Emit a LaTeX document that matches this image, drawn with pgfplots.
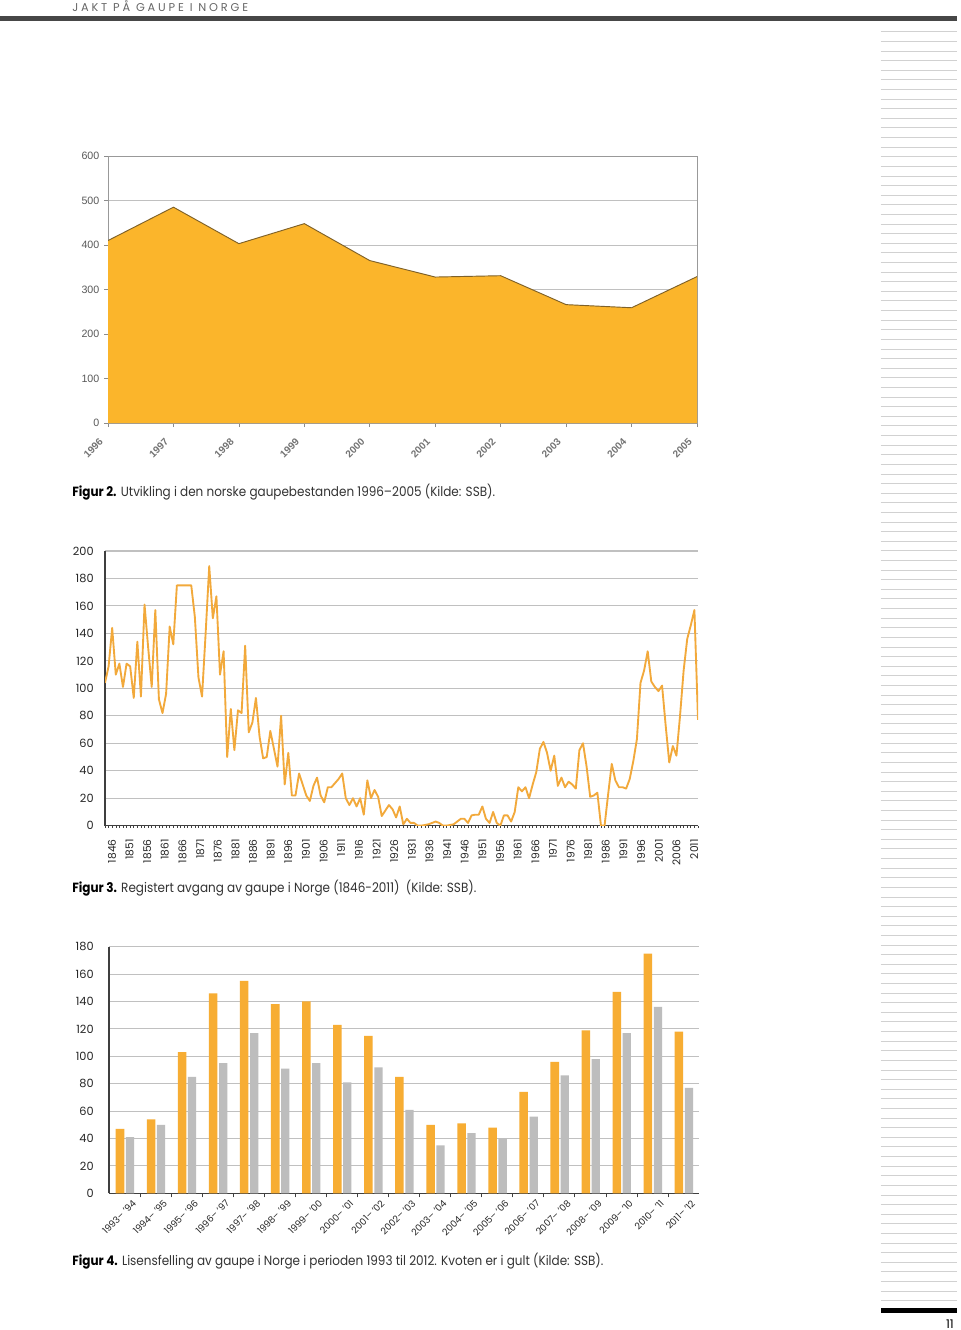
\documentclass[border=0pt]{standalone}
\usepackage{fontspec}
\setmainfont{Poppins}
\newfontfamily\arialf{Liberation Sans}
\newfontfamily\headfont[LetterSpace=25]{Poppins}
\usepackage{pgfplots}
\pgfplotsset{compat=1.18}
\definecolor{areaO}{HTML}{FBB52B}
\definecolor{areaE}{HTML}{7F6128}
\definecolor{lineO}{HTML}{F2A93B}
\definecolor{barO}{HTML}{F7AD33}
\definecolor{barG}{HTML}{BDBDBD}
\definecolor{gridc}{HTML}{C0C0C0}
\definecolor{axc}{HTML}{3F3F3F}
\newcommand\capt[2]{\scalebox{0.9}[1]{\fontsize{10pt}{12pt}\selectfont\textbf{#1} \textcolor{black!80}{#2}}}
\begin{document}
\begin{tikzpicture}
\path[use as bounding box, fill=white] (0,0) rectangle (720pt,-997.5pt);
% header
\node[anchor=base west, inner sep=0, text=black!60] at (54pt,-9pt) {\headfont\fontsize{8.5pt}{10pt}\selectfont JAKT PÅ GAUPE I NORGE};
\fill[black!72] (0,-12pt) rectangle (717.75pt,-15.4pt);
% right margin lines
\foreach \i in {0,...,132} { \draw[black!18, line width=0.6pt] (660.5pt,{-23.78pt-7.21pt*\i}) -- (717.75pt,{-23.78pt-7.21pt*\i}); }
\fill[black] (660.5pt,-980.8pt) rectangle (717.75pt,-984.5pt);
\node[anchor=base east, inner sep=0] at (715.5pt,-996pt) {\fontsize{9pt}{10pt}\selectfont 11};

% ---------- Figure 2: area chart ----------
\begin{axis}[
  at={(81pt,-317.25pt)}, anchor=south west, scale only axis,
  width=441.75pt, height=200.25pt,
  xmin=1996, xmax=2005, ymin=0, ymax=600,
  ytick={0,100,...,600}, xtick={1996,...,2005},
  ymajorgrids, grid style={gridc, line width=0.6pt},
  axis line style={black!40, line width=0.6pt},
  xtick pos=bottom, ytick pos=left,
  tick align=outside, major tick length=3pt,
  tick style={black!45, line width=0.5pt},
  /pgf/number format/assume math mode=true,
  /pgf/number format/1000 sep={},
  x tick label style={xshift=-7pt, yshift=-3pt, rotate=45, anchor=north east, font=\arialf\bfseries\fontsize{7.5pt}{8pt}\selectfont, text=black!55},
  y tick label style={font=\arialf\fontsize{8pt}{9pt}\selectfont, text=black!65},
]
\addplot[fill=areaO, draw=none] coordinates {(1996,410) (1997,485) (1998,403) (1999,448) (2000,365) (2001,328) (2002,331) (2003,266) (2004,259) (2005,329)} \closedcycle;
\addplot[areaE, line width=0.7pt] coordinates {(1996,410) (1997,485) (1998,403) (1999,448) (2000,365) (2001,328) (2002,331) (2003,266) (2004,259) (2005,329)};
\end{axis}
\node[anchor=base west, inner sep=0] at (54pt,-372pt) {\capt{Figur 2.}{Utvikling i den norske gaupebestanden 1996–2005 (Kilde: SSB).}};

% ---------- Figure 3: line chart ----------
\begin{axis}[
  at={(78.75pt,-619.25pt)}, anchor=south west, scale only axis,
  width=444.75pt, height=206pt,
  xmin=1846, xmax=2011, ymin=0, ymax=200,
  ytick={0,20,...,200},
  xtick={1847.95,1852.86,1857.77,1862.67,1867.58,1872.49,1877.40,1882.31,1887.21,1892.12,1897.03,1901.94,1906.85,1911.75,1916.66,1921.57,1926.48,1931.39,1936.29,1941.20,1946.11,1951.02,1955.93,1960.83,1965.74,1970.65,1975.56,1980.47,1985.37,1990.28,1995.19,2000.10,2005.01,2009.91},
  xticklabels={1846,1851,1856,1861,1866,1871,1876,1881,1886,1891,1896,1901,1906,1911,1916,1921,1926,1931,1936,1941,1946,1951,1956,1961,1966,1971,1976,1981,1986,1991,1996,2001,2006,2011},
  minor xtick={1846,...,2011},
  axis x line*=bottom, axis y line*=left,
  axis line style={-, axc, line width=0.8pt},
  ymajorgrids, grid style={gridc, line width=0.8pt},
  tick align=outside, major tick length=0pt, minor tick length=1.5pt,
  xtick style={axc, line width=0.4pt}, ytick style={draw=none},
  /pgf/number format/assume math mode=true,
  x tick label style={yshift=-6.75pt, rotate=90, anchor=east, font=\fontsize{8pt}{9pt}\selectfont, text=black!85},
  y tick label style={font=\fontsize{8.5pt}{9pt}\selectfont, text=black!85, xshift=-5pt},
]
\addplot[lineO, line width=1.4pt, line join=round] coordinates {
(1846,104) (1847,116) (1848,144) (1849,110) (1850,118) (1851,101) (1852,118) (1853,116) (1854,93) (1855,134)
(1856,94) (1857,161) (1858,130) (1859,101) (1860,157) (1861,92) (1862,82) (1863,96) (1864,145) (1865,132)
(1866,175) (1867,175) (1868,175) (1869,175) (1870,175) (1871,152) (1872,108) (1873,94) (1874,140) (1875,189)
(1876,151) (1877,167) (1878,110) (1879,127) (1880,50) (1881,85) (1882,55) (1883,84) (1884,82) (1885,131)
(1886,68) (1887,75) (1888,93) (1889,65) (1890,49) (1891,50) (1892,69) (1893,56) (1894,43) (1895,80)
(1896,30) (1897,53) (1898,22) (1899,22) (1900,38) (1901,30) (1902,22) (1903,18) (1904,29) (1905,35)
(1906,22) (1907,17) (1908,28) (1909,28) (1910,31) (1911,34) (1912,38) (1913,20) (1914,15) (1915,20)
(1916,14) (1917,20) (1918,8) (1919,33) (1920,20) (1921,26) (1922,21) (1923,7) (1924,11) (1925,15)
(1926,12) (1927,6) (1928,14) (1929,1) (1930,5) (1931,2) (1932,2) (1933,0) (1934,0) (1935,0.5)
(1936,1) (1937,2) (1938,3) (1939,2) (1940,0) (1941,0) (1942,0.5) (1943,1) (1944,3) (1945,5)
(1946,5) (1947,2) (1948,7.5) (1949,8) (1950,8) (1951,14) (1952,5) (1953,2) (1954,10) (1955,2)
(1956,0) (1957,7.5) (1958,7.5) (1959,3) (1960,10) (1961,28) (1962,25) (1963,28) (1964,20) (1965,30)
(1966,39) (1967,56) (1968,61) (1969,53) (1970,40) (1971,51) (1972,29) (1973,35) (1974,28) (1975,32)
(1976,30) (1977,27) (1978,55) (1979,60) (1980,43) (1981,21) (1982,22) (1983,24) (1984,0) (1985,0)
(1986,23) (1987,45) (1988,33) (1989,28) (1990,28) (1991,27) (1992,34) (1993,47) (1994,63) (1995,104)
(1996,113) (1997,127) (1998,105) (1999,101) (2000,98) (2001,102) (2002,73) (2003,46) (2004,58) (2005,51)
(2006,80) (2007,113) (2008,136) (2009,146) (2010,157) (2011,77)};
\end{axis}
\node[anchor=base west, inner sep=0] at (54pt,-669pt) {\capt{Figur 3.}{Registert avgang av gaupe i Norge (1846-2011)\ \ (Kilde: SSB).}};

% ---------- Figure 4: bar chart ----------
\begin{axis}[
  at={(81.75pt,-895pt)}, anchor=south west, scale only axis,
  width=442.5pt, height=185pt,
  xmin=-0.5, xmax=18.5, ymin=0, ymax=180,
  ytick={0,20,...,180}, xtick={0,...,18},
  minor xtick={0.5,1.5,...,17.5},
  xticklabels={1993– ’94,1994– ’95,1995– ’96,1996– ’97,1997– ’98,1998– ’99,1999– ’00,2000– ’01,2001– ’02,2002– ’03,2003– ’04,2004– ’05,2005– ’06,2006– ’07,2007– ’08,2008– ’09,2009– ’10,2010– ’11,2011– ’12},
  axis x line*=bottom, axis y line*=left,
  axis line style={-, axc, line width=0.8pt},
  ymajorgrids, grid style={gridc, line width=0.8pt},
  tick align=outside, major tick length=0pt, minor tick length=3pt,
  xtick style={axc, line width=0.5pt}, ytick style={draw=none},
  /pgf/number format/assume math mode=true,
  x tick label style={xshift=5.5pt, yshift=0.5pt, rotate=45, anchor=north east, font=\fontsize{7pt}{8pt}\selectfont, text=black!85},
  y tick label style={font=\fontsize{8.5pt}{9pt}\selectfont, text=black!85, xshift=-8pt},
]
\addplot[ybar, fill=barO, draw=none, bar width=6.4pt, bar shift=-3.4pt] coordinates {
(0,47) (1,54) (2,103) (3,146) (4,155) (5,138) (6,140) (7,123) (8,115) (9,85) (10,50) (11,51) (12,48) (13,74) (14,96) (15,119) (16,147) (17,175) (18,118)};
\addplot[ybar, fill=barG, draw=none, bar width=6.2pt, bar shift=4.1pt] coordinates {
(0,41) (1,50) (2,85) (3,95) (4,117) (5,91) (6,95) (7,81) (8,92) (9,61) (10,35) (11,44) (12,40) (13,56) (14,86) (15,98) (16,117) (17,136) (18,77)};
\end{axis}
\node[anchor=base west, inner sep=0] at (54pt,-948.75pt) {\capt{Figur 4.}{Lisensfelling av gaupe i Norge i perioden 1993 til 2012. Kvoten er i gult (Kilde: SSB).}};
\end{tikzpicture}
\end{document}
